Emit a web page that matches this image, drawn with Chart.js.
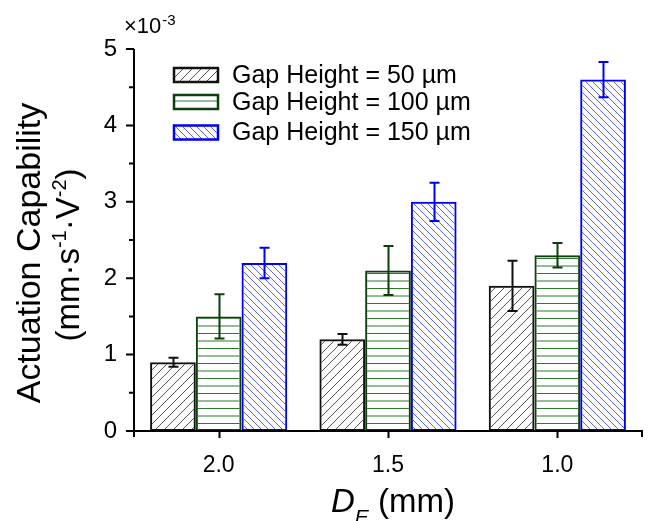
<!DOCTYPE html>
<html><head><meta charset="utf-8">
<script src="https://cdn.jsdelivr.net/npm/chart.js@4.4.1/dist/chart.umd.min.js"></script>
<style>html,body{margin:0;padding:0;background:#fff;}canvas{display:block;}</style>
</head><body>
<canvas id="c" width="653" height="521"></canvas>
<script>
const categories = ['2.0', '1.5', '1.0'];
const seriesNames = ['Gap Height = 50 µm', 'Gap Height = 100 µm', 'Gap Height = 150 µm'];
const values50 = [0.9, 1.2, 1.9];
const values100 = [1.5, 2.1, 2.3];
const values150 = [2.2, 3.0, 4.6];
const errors50 = [0.06, 0.07, 0.33];
const errors100 = [0.29, 0.32, 0.16];
const errors150 = [0.20, 0.25, 0.23];
const yTicks = [0, 1, 2, 3, 4, 5];
const yMinorTicks = [0.5, 1.5, 2.5, 3.5, 4.5];

const FONT = '"Liberation Sans", Arial, Helvetica, sans-serif';
const canvas = document.getElementById('c');
const mainCtx = canvas.getContext('2d');

function makePattern(kind) {
  const c = document.createElement('canvas');
  const x = c.getContext('2d');
  if (kind === 'fwd') {
    const s = 9; c.width = s; c.height = s;
    x.strokeStyle = '#555'; x.lineWidth = 1;
    x.beginPath();
    for (let k = -1; k <= 1; k++) { x.moveTo(k * s, s); x.lineTo(k * s + s, 0); }
    x.stroke();
  } else if (kind === 'back') {
    const s = 7; c.width = s; c.height = s;
    x.strokeStyle = '#5a66ff'; x.lineWidth = 1;
    x.beginPath();
    for (let k = -1; k <= 1; k++) { x.moveTo(k * s, 0); x.lineTo(k * s + s, s); }
    x.stroke();
  } else {
    c.width = 4; c.height = 15;
    x.strokeStyle = '#2b7a2b'; x.lineWidth = 1;
    x.beginPath();
    x.moveTo(0, 3.5); x.lineTo(4, 3.5);
    x.moveTo(0, 11); x.lineTo(4, 11);
    x.stroke();
  }
  return mainCtx.createPattern(c, 'repeat');
}

const borderCols = ['#111111', '#0b3f0b', '#0000ee'];

const datasets = [
  { label: seriesNames[0], data: values50, errors: errors50, backgroundColor: makePattern('fwd'), borderColor: borderCols[0] },
  { label: seriesNames[1], data: values100, errors: errors100, backgroundColor: makePattern('horiz'), borderColor: borderCols[1] },
  { label: seriesNames[2], data: values150, errors: errors150, backgroundColor: makePattern('back'), borderColor: borderCols[2] }
].map(d => Object.assign(d, { borderWidth: 2, borderSkipped: false, categoryPercentage: 0.81, barPercentage: 1.0 }));

const bg = { id: 'bg', beforeDraw(chart) { const c = chart.ctx; c.save(); c.fillStyle = '#fff'; c.fillRect(0, 0, chart.width, chart.height); c.restore(); } };

const errorBars = {
  id: 'errorBars',
  afterDatasetsDraw(chart) {
    const ctx = chart.ctx, ys = chart.scales.y;
    ctx.save();
    chart.data.datasets.forEach((ds, i) => {
      const meta = chart.getDatasetMeta(i);
      meta.data.forEach((el, j) => {
        const v = ds.data[j], e = ds.errors[j];
        const x = Math.round(el.x) + 0.5;
        const yt = ys.getPixelForValue(v + e), yb = ys.getPixelForValue(v - e);
        ctx.strokeStyle = ds.borderColor; ctx.lineWidth = 2;
        ctx.beginPath();
        ctx.moveTo(x, yt); ctx.lineTo(x, yb);
        ctx.moveTo(x - 5, yt); ctx.lineTo(x + 5, yt);
        ctx.moveTo(x - 5, yb); ctx.lineTo(x + 5, yb);
        ctx.stroke();
      });
    });
    ctx.restore();
  }
};

const axesAndText = {
  id: 'axesAndText',
  afterDraw(chart) {
    const ctx = chart.ctx, xs = chart.scales.x, ys = chart.scales.y, a = chart.chartArea;
    ctx.save();
    ctx.strokeStyle = '#000'; ctx.lineWidth = 2;
    const ax = a.left, ay = a.bottom;
    ctx.beginPath();
    ctx.moveTo(ax, ys.getPixelForValue(yTicks[yTicks.length - 1])); ctx.lineTo(ax, ay + 1);
    ctx.moveTo(ax - 1, ay); ctx.lineTo(a.right + 1, ay);
    yTicks.forEach(v => { const p = ys.getPixelForValue(v); ctx.moveTo(ax - 8, p); ctx.lineTo(ax, p); });
    yMinorTicks.forEach(v => { const p = ys.getPixelForValue(v); ctx.moveTo(ax - 5, p); ctx.lineTo(ax, p); });
    categories.forEach((c, i) => { const p = Math.round(xs.getPixelForValue(i)) + 0.5; ctx.moveTo(p, ay); ctx.lineTo(p, ay + 7); });
    ctx.moveTo(ax, ay); ctx.lineTo(ax, ay + 6);
    ctx.moveTo(a.right, ay); ctx.lineTo(a.right, ay + 6);
    ctx.stroke();

    ctx.fillStyle = '#000';
    // multiplier
    ctx.textBaseline = 'alphabetic'; ctx.textAlign = 'left';
    ctx.font = '22px ' + FONT;
    ctx.fillText('×10', 124, 33);
    let w = ctx.measureText('×10').width;
    ctx.font = '15px ' + FONT;
    ctx.fillText('-3', 124 + w + 1, 25);

    // legend
    const lx = 174, lw = 44, lh = 14, rows = [75, 102, 132.5];
    chart.data.datasets.forEach((ds, i) => {
      const cy = rows[i];
      ctx.fillStyle = ds.backgroundColor;
      ctx.fillRect(lx, cy - lh / 2, lw, lh);
      ctx.strokeStyle = ds.borderColor; ctx.lineWidth = 2.5;
      ctx.strokeRect(lx, cy - lh / 2, lw, lh);
      ctx.fillStyle = '#000';
      ctx.font = '25px ' + FONT;
      ctx.textBaseline = 'middle';
      ctx.fillText(ds.label, 232, cy + 1);
    });

    // y title
    ctx.save();
    ctx.translate(40, 253);
    ctx.rotate(-Math.PI / 2);
    ctx.textBaseline = 'alphabetic'; ctx.textAlign = 'center';
    ctx.font = '34px ' + FONT;
    ctx.fillText('Actuation Capability', 0, 0);
    ctx.restore();

    ctx.save();
    ctx.translate(79, 255);
    ctx.rotate(-Math.PI / 2);
    ctx.textBaseline = 'alphabetic'; ctx.textAlign = 'left';
    const parts = [['(mm·s', 0], ['-1', 1], ['·V', 0], ['-2', 1], [')', 0]];
    const fN = '33px ' + FONT, fS = '20px ' + FONT;
    let total = 0;
    parts.forEach(p => { ctx.font = p[1] ? fS : fN; total += ctx.measureText(p[0]).width; });
    let px = -total / 2;
    parts.forEach(p => { ctx.font = p[1] ? fS : fN; ctx.fillText(p[0], px, p[1] ? -13 : 0); px += ctx.measureText(p[0]).width; });
    ctx.restore();

    // x title
    ctx.textAlign = 'left'; ctx.textBaseline = 'alphabetic';
    let tx = 331;
    ctx.font = 'italic 33px ' + FONT;
    ctx.fillText('D', tx, 512); tx += ctx.measureText('D').width;
    ctx.font = 'italic 21px ' + FONT;
    ctx.fillText('E', tx, 524); tx += ctx.measureText('E').width;
    ctx.font = '33px ' + FONT;
    ctx.fillText(' (mm)', tx, 512);
    ctx.restore();
  }
};

new Chart(canvas, {
  type: 'bar',
  data: { labels: categories, datasets },
  options: {
    responsive: false,
    devicePixelRatio: 1,
    animation: false,
    layout: { padding: { left: 0, top: 49, right: 11, bottom: 0 } },
    plugins: { legend: { display: false }, tooltip: { enabled: false } },
    scales: {
      x: {
        type: 'category',
        offset: true,
        grid: { display: false, drawTicks: true, tickLength: 7 },
        border: { display: false },
        ticks: { color: '#000', font: { family: FONT, size: 23 }, padding: 14, maxRotation: 0 },
        afterFit: s => { s.height = 90; }
      },
      y: {
        min: 0, max: 5,
        grid: { display: false, drawTicks: true, tickLength: 8 },
        border: { display: false },
        ticks: { color: '#000', font: { family: FONT, size: 24 }, padding: 9 },
        afterBuildTicks: s => { s.ticks = yTicks.map(v => ({ value: v })); },
        afterFit: s => { s.width = 134; }
      }
    }
  },
  plugins: [bg, errorBars, axesAndText]
});
</script>
</body></html>
